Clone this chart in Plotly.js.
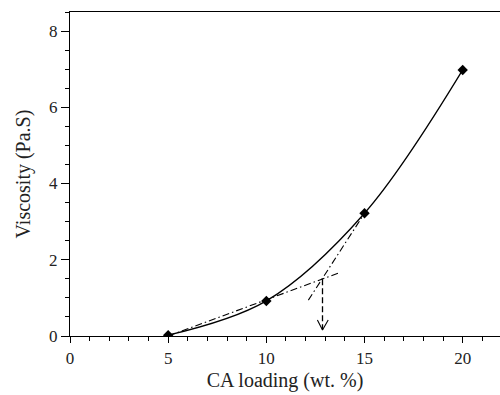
<!DOCTYPE html>
<html><head><meta charset="utf-8">
<script src="https://cdn.plot.ly/plotly-3.0.1.min.js"></script>
<style>html,body{margin:0;padding:0;background:#fff}#chart{width:500px;height:395px}</style>
</head><body><div id="chart"></div>
<script>
// Measured data
var loading = [5, 10, 15, 20];
var viscosity = [0.02, 0.92, 3.22, 6.98];
// Tangent construction lines
var tangentLowX = [5, 13.67];
var tangentLowY = [0.0, 1.65];
var tangentHighX = [12.14, 15];
var tangentHighY = [0.94, 3.22];
// Critical point drop line and arrow head
var dropX = [12.86, 12.86];
var dropY = [1.49, 0.17];
var arrowX = [12.6, 12.86, 13.15];
var arrowY = [0.42, 0.16, 0.42];
var xTicks = [0, 5, 10, 15, 20];
var yTicks = [0, 2, 4, 6, 8];

var black = '#000';
var traces = [
  {x: loading, y: viscosity, mode: 'lines', line: {shape: 'spline', color: black, width: 1.3}, hoverinfo: 'skip'},
  {x: tangentLowX, y: tangentLowY, mode: 'lines', line: {color: black, width: 1.1, dash: '7px,3px,1.5px,3px'}},
  {x: tangentHighX, y: tangentHighY, mode: 'lines', line: {color: black, width: 1.1, dash: '7px,3px,1.5px,3px'}},
  {x: dropX, y: dropY, mode: 'lines', line: {color: black, width: 1.3, dash: '6px,3px'}},
  {x: arrowX, y: arrowY, mode: 'lines', line: {color: black, width: 1.1}},
  {x: loading, y: viscosity, mode: 'markers', marker: {symbol: 'diamond', size: 8, color: black}}
];

var tickFont = {family: '"Liberation Serif", "DejaVu Serif", serif', size: 17, color: '#222'};
var titleFont = {family: '"Liberation Serif", "DejaVu Serif", serif', size: 20, color: '#222'};
var layout = {
  width: 500, height: 395,
  margin: {l: 70, r: 0, t: 12, b: 59},
  showlegend: false,
  paper_bgcolor: '#fff', plot_bgcolor: '#fff',
  font: tickFont,
  xaxis: {
    range: [0, 21.9], tickvals: xTicks, ticktext: xTicks.map(String),
    showgrid: false, zeroline: false, showline: true, linecolor: black, linewidth: 1.2,
    mirror: true, ticks: 'outside', ticklen: 6, tickwidth: 1, tickcolor: black,
    minor: {dtick: 1, ticks: 'outside', ticklen: 4, tickcolor: black, showgrid: false},
    tickfont: tickFont,
    title: {text: 'CA loading (wt. %)', font: titleFont, standoff: 6}
  },
  yaxis: {
    range: [0, 8.5], tickvals: yTicks, ticktext: yTicks.map(String),
    showgrid: false, zeroline: false, showline: true, linecolor: black, linewidth: 1.2,
    ticks: 'outside', ticklen: 8, tickwidth: 1, tickcolor: black,
    minor: {dtick: 0.5, tick0: 0, ticks: 'outside', ticklen: 4, tickcolor: black, showgrid: false},
    tickfont: tickFont,
    title: {text: 'Viscosity (Pa.S)', font: titleFont, standoff: 13}
  }
};
Plotly.newPlot('chart', traces, layout, {staticPlot: true});
</script>
</body></html>
